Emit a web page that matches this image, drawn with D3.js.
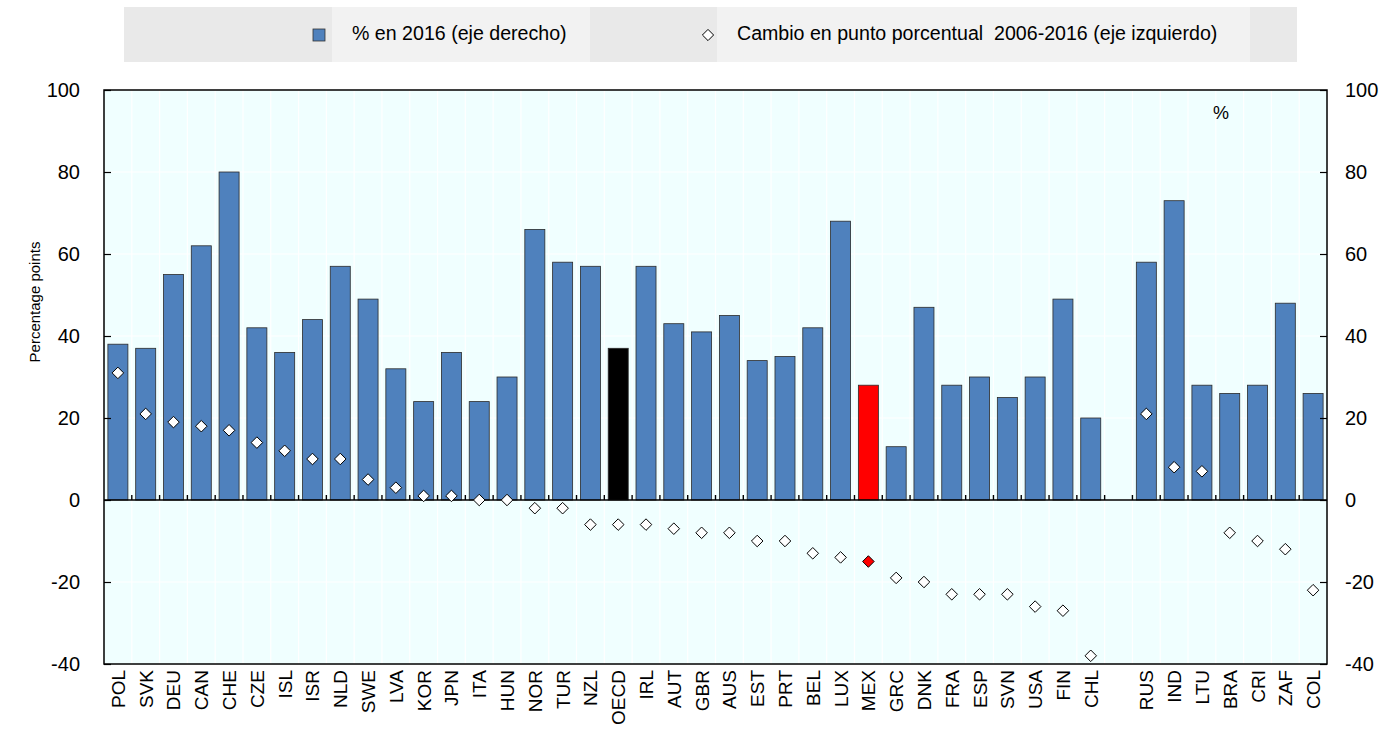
<!DOCTYPE html>
<html>
<head>
<meta charset="utf-8">
<script src="https://cdn.jsdelivr.net/npm/d3@7.9.0/dist/d3.min.js"></script>
<style>
  body { margin: 0; background: #fff; }
  svg { display: block; font-family: "Liberation Sans Narrow", "Arial Narrow", "Liberation Sans", Arial, sans-serif; }
</style>
</head>
<body>
<svg id="chart" width="1381" height="729"></svg>
<script>
const countries = ["POL","SVK","DEU","CAN","CHE","CZE","ISL","ISR","NLD","SWE","LVA","KOR","JPN","ITA","HUN","NOR","TUR","NZL","OECD","IRL","AUT","GBR","AUS","EST","PRT","BEL","LUX","MEX","GRC","DNK","FRA","ESP","SVN","USA","FIN","CHL","RUS","IND","LTU","BRA","CRI","ZAF","COL"];
const share2016 = [38,37,55,62,80,42,36,44,57,49,32,24,36,24,30,66,58,57,37,57,43,41,45,34,35,42,68,28,13,47,28,30,25,30,49,20,58,73,28,26,28,48,26];
const change0616 = [31,21,19,18,17,14,12,10,10,5,3,1,1,0,0,-2,-2,-6,-6,-6,-7,-8,-8,-10,-10,-13,-14,-15,-19,-20,-23,-23,-23,-26,-27,-38,21,8,7,-8,-10,-12,-22];
const yTicks = [-40,-20,0,20,40,60,80,100];
const gapAfter = "CHL";
const legendLabels = ["% en 2016 (eje derecho)", "Cambio en punto porcentual  2006-2016 (eje izquierdo)"];

const svg = d3.select("#chart");
const plotL = 104, plotR = 1327, plotT = 90, plotB = 664;

const domain = [];
countries.forEach((c) => {
  domain.push(c);
  if (c === gapAfter) domain.push("_gap");
});

const x = d3.scaleBand().domain(domain).range([plotL, plotR]).paddingInner(0.28).paddingOuter(0.14);
const step = x.step();
const y = d3.scaleLinear().domain([-40, 100]).range([plotB, plotT]);

// legend
svg.append("rect").attr("x", 124).attr("y", 7).attr("width", 1173).attr("height", 55).attr("fill", "#e9e9e9");
svg.append("rect").attr("x", 332).attr("y", 7).attr("width", 258).attr("height", 55).attr("fill", "#f2f2f2");
svg.append("rect").attr("x", 717).attr("y", 7).attr("width", 533).attr("height", 55).attr("fill", "#f2f2f2");
svg.append("rect").attr("x", 313).attr("y", 29).attr("width", 12).attr("height", 12)
  .attr("fill", "#4f81bd").attr("stroke", "#333").attr("stroke-width", 0.8);
svg.append("path").attr("d", d3.symbol(d3.symbolDiamond2, 80)())
  .attr("transform", "translate(708,35)").attr("fill", "#fff").attr("stroke", "#000").attr("stroke-width", 1);
svg.append("text").attr("x", 352).attr("y", 40).attr("font-size", 19.6).text(legendLabels[0]);
svg.append("text").attr("x", 737).attr("y", 40).attr("font-size", 19.6).attr("xml:space", "preserve").text(legendLabels[1]);

// plot background
svg.append("rect").attr("x", plotL).attr("y", plotT).attr("width", plotR - plotL).attr("height", plotB - plotT).attr("fill", "#f0ffff");

// gridlines
svg.append("g").selectAll("line").data(yTicks).join("line")
  .attr("x1", plotL).attr("x2", plotR).attr("y1", (d) => y(d)).attr("y2", (d) => y(d))
  .attr("stroke", "#fff").attr("stroke-width", 1.2);
const bounds = d3.range(1, domain.length).map((i) => plotL + i * step);
svg.append("g").selectAll("line").data(bounds).join("line")
  .attr("x1", (d) => d).attr("x2", (d) => d).attr("y1", plotT).attr("y2", plotB)
  .attr("stroke", "#fff").attr("stroke-width", 1.2);

// bars
const barColor = (c) => (c === "OECD" ? "#000" : c === "MEX" ? "#ff0000" : "#4f81bd");
svg.append("g").selectAll("rect").data(countries).join("rect")
  .attr("x", (c) => x(c))
  .attr("width", x.bandwidth())
  .attr("y", (c, i) => y(share2016[i]))
  .attr("height", (c, i) => y(0) - y(share2016[i]))
  .attr("fill", barColor)
  .attr("stroke", "#2b2b2b").attr("stroke-width", 0.8);

// zero line with small ticks
svg.append("line").attr("x1", plotL).attr("x2", plotR).attr("y1", y(0)).attr("y2", y(0))
  .attr("stroke", "#000").attr("stroke-width", 1.5);
svg.append("g").selectAll("line").data(bounds).join("line")
  .attr("x1", (d) => d).attr("x2", (d) => d).attr("y1", y(0)).attr("y2", y(0) - 5)
  .attr("stroke", "#000").attr("stroke-width", 1.4);

// diamonds
svg.append("g").selectAll("path").data(countries).join("path")
  .attr("d", d3.symbol(d3.symbolDiamond2, 85)())
  .attr("transform", (c, i) => `translate(${x(c) + x.bandwidth() / 2},${y(change0616[i])})`)
  .attr("fill", (c) => (c === "MEX" ? "#ff0000" : "#fff"))
  .attr("stroke", "#000").attr("stroke-width", 1);

// frame
svg.append("rect").attr("x", plotL).attr("y", plotT).attr("width", plotR - plotL).attr("height", plotB - plotT)
  .attr("fill", "none").attr("stroke", "#000").attr("stroke-width", 1.5);

// axes
const fmt = (d) => String(d);
const leftAxis = d3.axisLeft(y).tickValues(yTicks).tickFormat(fmt).tickSize(-7).tickPadding(24);
const gl = svg.append("g").attr("transform", `translate(${plotL},0)`).call(leftAxis);
gl.select(".domain").remove();
gl.selectAll("text").attr("font-size", 20).attr("fill", "#000");
gl.selectAll("line").attr("stroke", "#000").attr("stroke-width", 1.2);

const rightAxis = d3.axisRight(y).tickValues(yTicks).tickFormat(fmt).tickSize(-7).tickPadding(18);
const gr = svg.append("g").attr("transform", `translate(${plotR},0)`).call(rightAxis);
gr.select(".domain").remove();
gr.selectAll("text").attr("font-size", 20).attr("fill", "#000");
gr.selectAll("line").attr("stroke", "#000").attr("stroke-width", 1.2);
svg.selectAll("g").attr("font-family", null);

// category labels
svg.append("g").selectAll("text").data(countries).join("text")
  .attr("transform", (c) => `translate(${x(c) + x.bandwidth() / 2 + 7},${plotB + 6}) rotate(-90)`)
  .attr("text-anchor", "end")
  .attr("font-size", 19)
  .text((c) => c);

// axis titles
svg.append("text").attr("transform", "translate(40,302) rotate(-90)").attr("text-anchor", "middle")
  .attr("font-size", 15).text("Percentage points");
svg.append("text").attr("x", 1221).attr("y", 119).attr("text-anchor", "middle").attr("font-size", 18).text("%");
</script>
</body>
</html>
